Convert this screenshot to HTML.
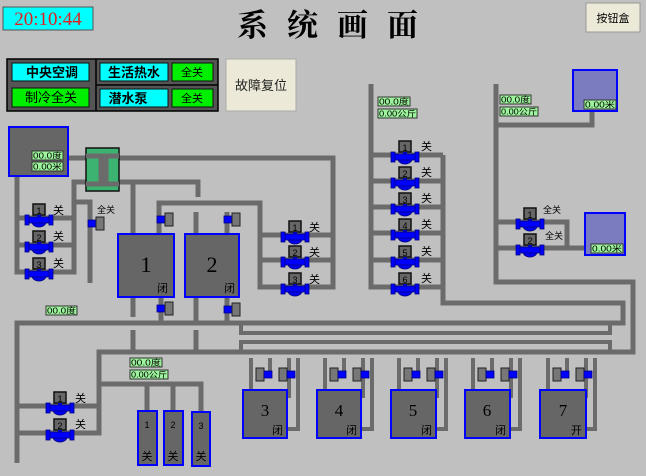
<!DOCTYPE html>
<html><head><meta charset="utf-8"><style>
html,body{margin:0;padding:0;background:#c0c0c0;}
svg{display:block;font-family:"Liberation Sans","Noto Sans CJK SC",sans-serif;}
.p{fill:none;stroke:#6b6b6b;stroke-width:5;stroke-linejoin:miter;stroke-linecap:butt}
.lb{fill:#9cf59c;stroke:#333;stroke-width:1}
.t{font-size:8px;fill:#000}
.k{font-size:11px;fill:#000}
</style></head><body>
<svg width="646" height="476" viewBox="0 0 646 476" xmlns="http://www.w3.org/2000/svg">
<defs>
<g id="v">
 <rect x="-6" y="-15" width="12" height="11" fill="#666" stroke="#111" stroke-width="1.5"/>
 <rect x="-2" y="-4" width="4" height="2" fill="#0000cc"/>
 <path d="M-7 3 A7 5 0 0 0 7 3 Z" fill="#0000ee" stroke="#000080" stroke-width="0.8"/>
 <rect x="-11" y="-2" width="22" height="6" fill="#0000ff" stroke="#000080" stroke-width="0.8"/>
 <rect x="-14" y="-4" width="4" height="10" fill="#0000ff" stroke="#000080" stroke-width="0.8"/>
 <rect x="10" y="-4" width="4" height="10" fill="#0000ff" stroke="#000080" stroke-width="0.8"/>
</g>
<g id="a">
 <rect x="0" y="0" width="8" height="7" fill="#0000ff" stroke="#000080" stroke-width="0.8"/>
 <rect x="8" y="-3" width="8" height="13" fill="#777" stroke="#222" stroke-width="1"/>
</g>
<g id="b">
 <rect x="0" y="-3" width="8" height="13" fill="#777" stroke="#222" stroke-width="1"/>
 <rect x="8" y="0" width="8" height="7" fill="#0000ff" stroke="#000080" stroke-width="0.8"/>
</g>
</defs>

<!-- header -->
<rect x="3" y="7" width="90" height="23" fill="#00ffff" stroke="#555"/>
<text x="48" y="25" text-anchor="middle" font-family="Liberation Serif,serif" font-size="19" fill="#e02020">20:10:44</text>
<text x="337" y="36" text-anchor="middle" font-family="Liberation Serif,'Noto Serif CJK SC',serif" font-size="31" font-weight="bold" letter-spacing="19">系统画面</text>
<rect x="586" y="3" width="54" height="29" fill="#ece9d8" stroke="#999"/>
<text x="613" y="22" text-anchor="middle" class="k">按钮盒</text>

<rect x="7" y="59" width="211" height="52" fill="#555" stroke="#000" stroke-width="1.5"/>
<line x1="96" y1="59" x2="96" y2="111" stroke="#000" stroke-width="1.5"/>
<line x1="96" y1="85" x2="218" y2="85" stroke="#000" stroke-width="1.5"/>
<rect x="12" y="63" width="77" height="18" fill="#00ffff" stroke="#111"/>
<text x="52" y="77" text-anchor="middle" font-size="13" font-weight="bold">中央空调</text>
<rect x="12" y="88" width="77" height="19" fill="#00ee00" stroke="#111"/>
<text x="51" y="102" text-anchor="middle" font-size="13">制冷全关</text>
<rect x="100" y="63" width="68" height="18" fill="#00ffff" stroke="#111"/>
<text x="134" y="77" text-anchor="middle" font-size="13" font-weight="bold">生活热水</text>
<rect x="172" y="63" width="41" height="18" fill="#00ee00" stroke="#111"/>
<text x="192" y="76" text-anchor="middle" font-size="11">全关</text>
<rect x="100" y="89" width="68" height="18" fill="#00ffff" stroke="#111"/>
<text x="128" y="103" text-anchor="middle" font-size="13" font-weight="bold">潜水泵</text>
<rect x="172" y="89" width="41" height="18" fill="#00ee00" stroke="#111"/>
<text x="192" y="102" text-anchor="middle" font-size="11">全关</text>
<rect x="226" y="59" width="70" height="52" fill="#ece9d8" stroke="#aaa"/>
<text x="261" y="90" text-anchor="middle" font-size="13" fill="#222">故障复位</text>

<!-- pipes -->
<polyline class="p" points="68,158 101,158 101,182 74,182 74,272 17,272 17,176"/>
<line class="p" x1="17" y1="218" x2="74" y2="218"/>
<line class="p" x1="17" y1="245" x2="74" y2="245"/>
<polyline class="p" points="106,158 333,158 333,287 260,287 260,203 159,203 159,234"/>
<line class="p" x1="260" y1="235" x2="333" y2="235"/>
<line class="p" x1="260" y1="260" x2="333" y2="260"/>
<polyline class="p" points="106,182 198,182 198,197"/>
<polyline class="p" points="74,202 90,202 90,283"/>
<line class="p" x1="227" y1="212" x2="227" y2="234"/>
<line class="p" x1="196" y1="212" x2="196" y2="234"/>
<line class="p" x1="133" y1="182" x2="133" y2="317"/>
<line class="p" x1="161" y1="297" x2="161" y2="323"/>
<line class="p" x1="227" y1="297" x2="227" y2="323"/>
<line class="p" x1="196" y1="297" x2="196" y2="321"/>
<polyline class="p" points="17,463 17,323 623,323 623,303 443,303 443,155"/>
<polyline class="p" points="371,84 371,287 443,287"/>
<line class="p" x1="371" y1="155" x2="443" y2="155"/>
<line class="p" x1="371" y1="181" x2="443" y2="181"/>
<line class="p" x1="371" y1="207" x2="443" y2="207"/>
<line class="p" x1="371" y1="233" x2="443" y2="233"/>
<line class="p" x1="371" y1="260" x2="443" y2="260"/>
<rect class="p" x="241" y="323" width="369" height="10" style="stroke-width:4"/>
<rect class="p" x="241" y="342" width="369" height="10" style="stroke-width:4"/>
<polyline class="p" points="496,84 496,282 633,282 633,352 99,352 99,433 17,433"/>
<line class="p" x1="17" y1="406" x2="99" y2="406"/>
<line class="p" x1="133" y1="330" x2="133" y2="352"/>
<line class="p" x1="196" y1="330" x2="196" y2="352"/>
<polyline class="p" points="99,384 201,384 201,411"/>
<line class="p" x1="147" y1="384" x2="147" y2="411"/>
<line class="p" x1="173" y1="384" x2="173" y2="411"/>
<polyline class="p" points="496,125 592,125 592,110"/>
<polyline class="p" points="496,222 567,222 567,248"/>
<line class="p" x1="496" y1="248" x2="585" y2="248"/>

<!-- tank row pipes -->
<g id="tp">
<line class="p" x1="251" y1="358" x2="251" y2="390" style="stroke-width:4"/>
<line class="p" x1="270" y1="358" x2="270" y2="372" style="stroke-width:4"/>
<polyline class="p" points="289,358 289,396 287,396" style="stroke-width:4"/>
<polyline class="p" points="298,358 298,429 287,429" style="stroke-width:4"/>
<use href="#b" x="256" y="371"/>
<use href="#b" x="279" y="371"/>
</g>
<use href="#tp" x="74"/><use href="#tp" x="148"/><use href="#tp" x="222"/><use href="#tp" x="297"/>

<!-- left top tank & HX -->
<rect x="9" y="127" width="59" height="49" fill="#666" stroke="#0000ff" stroke-width="2"/>
<rect x="32" y="151" width="31" height="9" class="lb"/><text x="33" y="158.5" class="t" textLength="29" lengthAdjust="spacingAndGlyphs">00.0度</text>
<rect x="32" y="162" width="31" height="9" class="lb"/><text x="33" y="169.5" class="t" textLength="29" lengthAdjust="spacingAndGlyphs">0.00米</text>
<rect x="86" y="148" width="33" height="43" fill="#3cb371" stroke="#111" stroke-width="1.5"/>
<path d="M86 156 H101 V184 H86 M119 156 H106 V184 H119" fill="none" stroke="#6b6b6b" stroke-width="5"/>

<!-- tanks 1 2 -->
<rect x="118" y="234" width="56" height="63" fill="#666" stroke="#0000ff" stroke-width="2"/>
<text x="146" y="272" text-anchor="middle" font-family="Liberation Serif,serif" font-size="22">1</text>
<text x="157" y="292" class="k">闭</text>
<rect x="185" y="234" width="54" height="63" fill="#666" stroke="#0000ff" stroke-width="2"/>
<text x="212" y="272" text-anchor="middle" font-family="Liberation Serif,serif" font-size="22">2</text>
<text x="224" y="292" class="k">闭</text>
<use href="#a" x="157" y="216"/><use href="#a" x="224" y="216"/>
<use href="#a" x="157" y="305"/><use href="#a" x="224" y="306"/>
<use href="#a" x="88" y="220"/><text x="97" y="213" font-size="9">全关</text>

<!-- valves -->
<g font-size="9" text-anchor="middle">
<use href="#v" x="39" y="219"/><text x="39" y="214">1</text>
<use href="#v" x="39" y="246"/><text x="39" y="241">2</text>
<use href="#v" x="39" y="273"/><text x="39" y="268">3</text>
<use href="#v" x="295" y="236"/><text x="295" y="231">1</text>
<use href="#v" x="295" y="261"/><text x="295" y="256">2</text>
<use href="#v" x="295" y="288"/><text x="295" y="283">3</text>
<use href="#v" x="405" y="156"/><text x="405" y="151">1</text>
<use href="#v" x="405" y="182"/><text x="405" y="177">2</text>
<use href="#v" x="405" y="208"/><text x="405" y="203">3</text>
<use href="#v" x="405" y="234"/><text x="405" y="229">4</text>
<use href="#v" x="405" y="261"/><text x="405" y="256">5</text>
<use href="#v" x="405" y="288"/><text x="405" y="283">6</text>
<use href="#v" x="530" y="223"/><text x="530" y="218">1</text>
<use href="#v" x="530" y="249"/><text x="530" y="244">2</text>
<use href="#v" x="60" y="407"/><text x="60" y="402">1</text>
<use href="#v" x="60" y="434"/><text x="60" y="429">2</text>
</g>
<g class="k">
<text x="53" y="214">关</text><text x="53" y="240">关</text><text x="53" y="267">关</text>
<text x="309" y="231">关</text><text x="309" y="256">关</text><text x="309" y="283">关</text>
<text x="421" y="150">关</text><text x="421" y="176">关</text><text x="421" y="202">关</text>
<text x="421" y="228">关</text><text x="421" y="255">关</text><text x="421" y="282">关</text>
<text x="75" y="402">关</text><text x="75" y="428">关</text>
</g>
<text x="543" y="213" font-size="9">全关</text><text x="545" y="239" font-size="9">全关</text>

<!-- labels -->
<g class="t">
<rect x="46" y="306" width="31" height="9" class="lb"/><text x="47" y="313.5" textLength="29" lengthAdjust="spacingAndGlyphs">00.0度</text>
<rect x="378" y="97" width="32" height="9" class="lb"/><text x="379" y="104.5" textLength="30" lengthAdjust="spacingAndGlyphs">00.0度</text>
<rect x="378" y="109" width="39" height="9" class="lb"/><text x="379" y="116.5" textLength="37" lengthAdjust="spacingAndGlyphs">0.00公斤</text>
<rect x="500" y="95" width="31" height="9" class="lb"/><text x="501" y="102.5" textLength="29" lengthAdjust="spacingAndGlyphs">00.0度</text>
<rect x="500" y="107" width="38" height="9" class="lb"/><text x="501" y="114.5" textLength="36" lengthAdjust="spacingAndGlyphs">0.00公斤</text>
<rect x="130" y="358" width="32" height="9" class="lb"/><text x="131" y="365.5" textLength="30" lengthAdjust="spacingAndGlyphs">00.0度</text>
<rect x="130" y="370" width="38" height="9" class="lb"/><text x="131" y="377.5" textLength="36" lengthAdjust="spacingAndGlyphs">0.00公斤</text>
</g>

<!-- right tanks -->
<rect x="573" y="70" width="44" height="41" fill="#7b7bbf" stroke="#0000ff" stroke-width="2"/>
<rect x="584" y="100" width="32" height="9" class="lb"/><text x="585" y="107.5" class="t" textLength="30" lengthAdjust="spacingAndGlyphs">0.00米</text>
<rect x="585" y="213" width="40" height="42" fill="#7b7bbf" stroke="#0000ff" stroke-width="2"/>
<rect x="591" y="244" width="32" height="9" class="lb"/><text x="592" y="251.5" class="t" textLength="30" lengthAdjust="spacingAndGlyphs">0.00米</text>

<!-- tall tanks -->
<g fill="#666" stroke="#0000ff" stroke-width="2">
<rect x="138" y="411" width="19" height="54"/><rect x="164" y="411" width="19" height="54"/><rect x="192" y="412" width="18" height="54"/>
</g>
<g font-size="9" text-anchor="middle"><text x="147" y="428">1</text><text x="173" y="428">2</text><text x="201" y="429">3</text></g>
<g class="k" text-anchor="middle"><text x="147" y="460">关</text><text x="173" y="460">关</text><text x="201" y="460">关</text></g>

<!-- tanks 3-7 -->
<g fill="#666" stroke="#0000ff" stroke-width="2">
<rect x="243" y="390" width="44" height="48"/><rect x="317" y="390" width="44" height="48"/><rect x="391" y="390" width="45" height="48"/><rect x="465" y="390" width="45" height="48"/><rect x="540" y="390" width="46" height="48"/>
</g>
<g font-family="Liberation Serif,serif" font-size="17" text-anchor="middle">
<text x="265" y="416">3</text><text x="339" y="416">4</text><text x="413" y="416">5</text><text x="487" y="416">6</text><text x="563" y="416">7</text>
</g>
<g class="k"><text x="272" y="434">闭</text><text x="346" y="434">闭</text><text x="421" y="434">闭</text><text x="495" y="434">闭</text><text x="571" y="434">开</text></g>
</svg>
</body></html>
